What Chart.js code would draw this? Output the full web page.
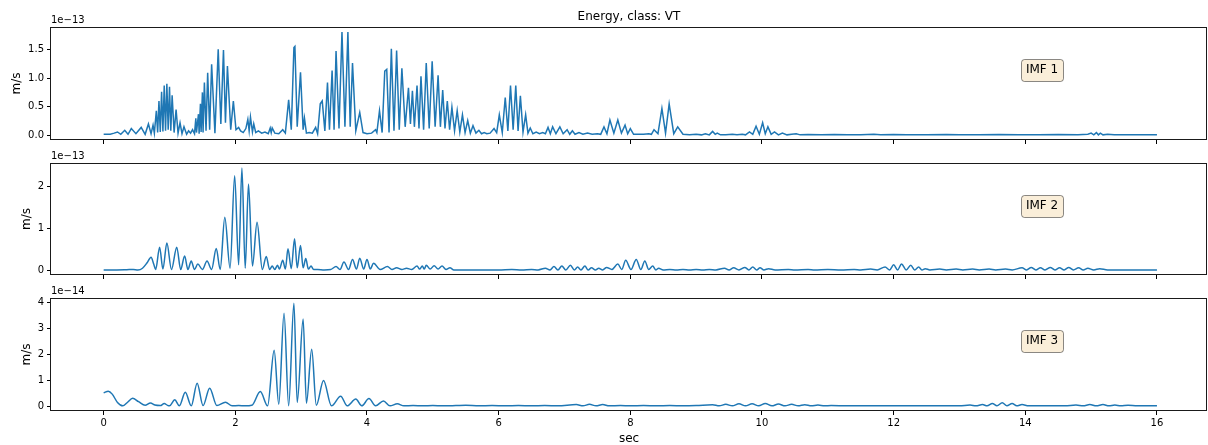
<!DOCTYPE html>
<html><head><meta charset="utf-8">
<script src="https://cdn.jsdelivr.net/npm/chart.js@4/dist/chart.umd.min.js"></script>
<style>
html,body{margin:0;padding:0;background:#fff;}
#wrap{position:relative;width:1208px;height:445px;overflow:hidden;background:#fff;}
canvas{position:absolute;left:0;top:0;}
</style></head><body>
<div id="wrap">
<canvas id="c1" width="1208" height="445"></canvas>
<canvas id="c2" width="1208" height="445"></canvas>
<canvas id="c3" width="1208" height="445"></canvas>
</div>
<script>
// ---------- text ----------
const TITLE = 'Energy, class: VT';
const X_LABEL = 'sec';
const Y_LABEL = 'm/s';
const IMF_LABELS = ['IMF 1', 'IMF 2', 'IMF 3'];
const OFFSET_TEXTS = ['1e\u221213', '1e\u221213', '1e\u221214'];

// ---------- ticks ----------
const X_TICKS = [0, 2, 4, 6, 8, 10, 12, 14, 16];
const X_TICK_LABELS = ['0', '2', '4', '6', '8', '10', '12', '14', '16'];
const Y1_TICKS = [0, 0.5, 1, 1.5];
const Y1_TICK_LABELS = ['0.0', '0.5', '1.0', '1.5'];
const Y2_TICKS = [0, 1, 2];
const Y2_TICK_LABELS = ['0', '1', '2'];
const Y3_TICKS = [0, 1, 2, 3, 4];
const Y3_TICK_LABELS = ['0', '1', '2', '3', '4'];

// ---------- data (time in sec, energy in units of the offset text) ----------
const IMF1_T = [0.00,0.10,0.16,0.21,0.26,0.32,0.37,0.42,0.49,0.57,0.63,0.68,0.72,0.75,0.77,0.80,0.82,0.84,0.86,0.88,0.90,0.92,0.94,0.96,0.98,1.00,1.02,1.04,1.07,1.10,1.13,1.16,1.19,1.22,1.26,1.29,1.32,1.35,1.38,
1.40,1.41,1.44,1.45,1.47,1.48,1.50,1.51,1.53,1.555,1.58,1.61,1.64,1.69,1.74,1.78,1.82,1.85,1.88,1.93,1.97,2.01,2.05,2.08,2.12,2.16,2.19,2.21,2.23,2.26,2.28,2.31,2.35,2.40,2.45,2.50,2.53,2.545,2.56,2.60,2.66,2.72,2.76,
2.81,2.85,2.89,2.905,2.94,2.99,3.03,3.05,3.08,3.12,3.17,3.22,3.25,3.29,3.32,3.36,3.40,3.43,3.47,3.50,3.53,3.575,3.62,3.665,3.71,3.745,3.78,3.83,3.89,3.94,4.00,4.07,4.13,4.15,4.19,4.23,4.27,4.30,4.335,4.37,4.41,4.45,4.49,
4.53,4.58,4.63,4.66,4.69,4.72,4.76,4.79,4.82,4.86,4.90,4.945,4.99,5.035,5.08,5.115,5.15,5.185,5.22,5.255,5.29,5.33,5.37,5.41,5.45,5.49,5.53,5.57,5.61,5.655,5.70,5.74,5.78,5.82,5.87,5.93,5.97,6.01,6.055,6.10,6.14,6.18,6.22,
6.26,6.295,6.33,6.37,6.41,6.445,6.48,6.52,6.57,6.62,6.67,6.71,6.75,6.785,6.82,6.87,6.93,6.98,7.04,7.08,7.12,7.16,7.22,7.28,7.35,7.42,7.50,7.55,7.60,7.645,7.69,7.75,7.81,7.865,7.92,7.96,8.00,8.05,8.12,8.20,8.28,8.32,8.36,
8.42,8.48,8.535,8.59,8.66,8.72,8.80,8.90,9.00,9.08,9.14,9.20,9.25,9.29,9.32,9.37,9.45,9.55,9.62,9.70,9.75,9.81,9.86,9.91,9.96,10.01,10.05,10.09,10.14,10.19,10.25,10.31,10.38,10.45,10.52,10.58,10.7,10.9,11.1,11.3,11.5,11.7,
11.8,12.0,12.2,12.5,12.8,13.0,13.3,13.6,13.9,14.2,14.5,14.8,14.95,15.0,15.04,15.08,15.11,15.14,15.18,15.25,15.35,15.6,16.0];
const IMF1_E = [0.02,0.02,0.04,0.06,0.02,0.09,0.02,0.12,0.03,0.14,0.02,0.20,0.03,0.18,0.04,0.43,0.05,0.60,0.06,0.76,0.07,0.87,0.08,0.90,0.10,0.85,0.08,0.70,0.05,0.45,0.04,0.22,0.03,0.15,0.02,0.08,0.04,0.10,0.03,
0.30,0.05,0.37,0.03,0.55,0.06,0.75,0.05,0.92,0.08,1.09,0.10,1.24,0.04,1.50,0.20,1.49,0.22,1.21,0.10,0.60,0.10,0.14,0.08,0.05,0.12,0.28,0.08,0.32,0.06,0.20,0.05,0.08,0.04,0.06,0.03,0.13,0.05,0.13,0.04,0.03,0.10,0.04,
0.62,0.10,1.53,1.55,0.15,1.10,0.10,0.30,0.04,0.05,0.04,0.14,0.03,0.55,0.60,0.08,0.92,0.10,1.13,0.10,1.47,0.12,1.80,0.15,1.80,0.15,1.26,0.08,0.40,0.05,0.03,0.04,0.10,0.05,0.43,0.05,1.12,1.15,0.05,1.51,0.08,1.48,0.10,
1.17,0.15,0.83,0.20,0.78,0.15,0.87,0.12,1.03,0.10,1.26,0.12,1.29,0.15,1.05,0.15,0.79,0.12,0.60,0.10,0.49,0.08,0.43,0.06,0.36,0.05,0.26,0.04,0.17,0.04,0.09,0.03,0.05,0.03,0.04,0.12,0.05,0.36,0.05,0.66,0.08,0.87,0.10,
0.87,0.08,0.69,0.06,0.36,0.04,0.13,0.03,0.06,0.03,0.05,0.03,0.14,0.03,0.15,0.03,0.15,0.03,0.10,0.02,0.08,0.02,0.05,0.02,0.04,0.02,0.03,0.02,0.15,0.03,0.27,0.04,0.27,0.04,0.18,0.03,0.12,0.02,0.02,0.02,0.03,0.02,0.10,
0.03,0.47,0.04,0.55,0.03,0.15,0.02,0.01,0.02,0.01,0.03,0.01,0.07,0.02,0.04,0.01,0.01,0.02,0.01,0.02,0.01,0.06,0.02,0.16,0.02,0.22,0.03,0.15,0.02,0.06,0.01,0.04,0.01,0.02,0.03,0.01,0.015,0.01,0.015,0.01,0.01,0.02,
0.01,0.015,0.01,0.01,0.015,0.01,0.01,0.015,0.01,0.01,0.015,0.01,0.02,0.04,0.01,0.05,0.01,0.04,0.01,0.02,0.01,0.01,0.01];

const IMF2_T = [0.00,0.20,0.35,0.45,0.52,0.59,0.66,0.72,0.76,0.79,0.85,0.90,0.96,1.03,1.11,1.17,1.23,1.28,1.33,1.38,1.43,1.50,1.57,1.64,1.71,1.77,1.84,1.92,1.99,2.05,2.10,2.15,2.20,2.26,2.33,2.41,2.47,2.52,2.56,2.60,2.64,2.67,
2.72,2.76,2.80,2.85,2.90,2.94,2.99,3.03,3.07,3.11,3.15,3.19,3.25,3.35,3.45,3.53,3.59,3.65,3.72,3.78,3.84,3.89,3.95,4.00,4.05,4.10,4.20,4.31,4.38,4.45,4.53,4.60,4.68,4.76,4.80,4.84,4.87,4.90,4.96,5.02,5.08,5.14,5.20,
5.26,5.32,5.45,5.7,6.0,6.2,6.35,6.5,6.6,6.71,6.78,6.84,6.90,6.96,7.02,7.09,7.15,7.20,7.25,7.31,7.36,7.41,7.47,7.52,7.58,7.64,7.72,7.81,7.87,7.93,8.01,8.09,8.16,8.22,8.28,8.34,8.39,8.43,8.50,8.6,8.7,8.8,8.9,9.0,9.1,
9.2,9.3,9.43,9.50,9.57,9.65,9.74,9.80,9.86,9.92,9.97,10.03,10.10,10.2,10.4,10.5,10.7,10.8,11.0,11.2,11.4,11.5,11.65,11.75,11.87,11.94,12.00,12.06,12.12,12.19,12.26,12.32,12.38,12.43,12.48,12.55,12.7,12.8,12.95,13.05,
13.2,13.3,13.45,13.55,13.7,13.8,13.95,14.02,14.09,14.16,14.23,14.30,14.38,14.45,14.52,14.59,14.66,14.73,14.81,14.88,14.95,15.04,15.13,15.25,15.5,16.0];
const IMF2_E = [0.01,0.01,0.015,0.02,0.01,0.05,0.18,0.31,0.15,0.02,0.55,0.03,0.65,0.02,0.55,0.02,0.34,0.02,0.22,0.02,0.15,0.02,0.22,0.02,0.52,0.02,1.26,0.05,2.25,0.13,2.43,0.05,2.05,0.10,1.14,0.02,0.33,0.02,0.10,0.02,0.12,0.03,
0.24,0.03,0.51,0.04,0.75,0.06,0.59,0.06,0.28,0.03,0.10,0.02,0.02,0.01,0.02,0.09,0.02,0.20,0.02,0.26,0.03,0.29,0.03,0.26,0.03,0.17,0.02,0.09,0.02,0.06,0.02,0.05,0.02,0.10,0.03,0.10,0.03,0.12,0.03,0.11,0.03,0.10,0.02,
0.06,0.01,0.01,0.01,0.01,0.02,0.01,0.02,0.01,0.05,0.01,0.09,0.01,0.10,0.01,0.12,0.01,0.08,0.01,0.10,0.01,0.06,0.01,0.05,0.01,0.07,0.02,0.15,0.02,0.24,0.02,0.26,0.02,0.22,0.02,0.10,0.01,0.05,0.01,0.02,0.01,0.02,0.01,0.02,0.01,
0.02,0.01,0.05,0.01,0.06,0.01,0.07,0.01,0.08,0.01,0.06,0.01,0.04,0.01,0.02,0.01,0.02,0.01,0.02,0.01,0.02,0.01,0.03,0.01,0.08,0.01,0.13,0.01,0.15,0.01,0.12,0.01,0.08,0.01,0.04,0.01,0.03,0.01,0.03,0.01,
0.03,0.01,0.03,0.01,0.03,0.01,0.06,0.01,0.07,0.01,0.06,0.01,0.07,0.01,0.06,0.01,0.07,0.01,0.06,0.01,0.05,0.01,0.04,0.01,0.01,0.01];

const IMF3_T = [0.00,0.07,0.13,0.21,0.29,0.36,0.44,0.53,0.63,0.71,0.78,0.86,0.92,0.97,1.00,1.08,1.15,1.24,1.33,1.42,1.51,1.61,1.72,1.85,1.95,2.05,2.15,2.25,2.38,2.49,2.59,2.66,2.74,2.81,2.89,2.94,3.03,3.08,3.16,3.23,3.34,3.46,
3.60,3.70,3.83,3.92,4.03,4.13,4.25,4.35,4.46,4.56,4.7,4.85,5.0,5.15,5.35,5.5,5.7,5.9,6.1,6.3,6.5,6.7,6.9,7.18,7.28,7.38,7.48,7.58,7.68,7.85,8.0,8.2,8.4,8.6,8.8,9.0,9.25,9.35,9.45,9.55,9.65,9.75,9.85,9.95,10.05,10.15,
10.25,10.35,10.45,10.55,10.65,10.75,10.85,10.95,11.05,11.3,11.6,11.9,12.2,12.5,12.8,13.0,13.16,13.25,13.35,13.42,13.50,13.57,13.65,13.72,13.80,13.87,13.95,14.05,14.2,14.4,14.6,14.77,14.88,14.98,15.08,15.18,15.27,15.36,15.45,15.56,15.7,16.0];
const IMF3_E = [0.52,0.58,0.47,0.15,0.02,0.15,0.31,0.18,0.04,0.13,0.05,0.03,0.11,0.04,0.02,0.25,0.02,0.54,0.02,0.89,0.03,0.70,0.03,0.16,0.02,0.03,0.02,0.04,0.57,0.02,2.15,0.08,3.57,0.02,3.96,0.15,3.35,0.12,2.19,0.04,0.99,0.02,
0.39,0.02,0.28,0.02,0.30,0.02,0.21,0.02,0.10,0.02,0.03,0.02,0.03,0.02,0.03,0.04,0.02,0.03,0.02,0.03,0.02,0.03,0.02,0.07,0.02,0.08,0.02,0.07,0.02,0.03,0.02,0.03,0.02,0.03,0.02,0.03,0.06,0.02,0.08,0.02,0.10,0.02,0.10,0.02,0.11,0.02,
0.09,0.02,0.08,0.02,0.06,0.02,0.05,0.02,0.03,0.02,0.02,0.02,0.02,0.02,0.02,0.02,0.05,0.02,0.07,0.02,0.11,0.02,0.14,0.02,0.11,0.02,0.07,0.02,0.02,0.02,0.02,0.05,0.02,0.07,0.02,0.07,0.02,0.05,0.02,0.04,0.02,0.02];

// ---------- layout / style ----------
const FONT = '"DejaVu Sans", "Liberation Sans", sans-serif';
const LINE_COLOR = '#1f77b4';
const AX_LEFT = 51, AX_RIGHT = 1207, Y_AXIS_W = 40, X_AXIS_H = 30;
const X_MIN = -0.8, X_MAX = 16.76;
const PANELS = [
  {id:'c1', t:IMF1_T, e:IMF1_E, yt:Y1_TICKS, ytl:Y1_TICK_LABELS, top:27, bottom:140, ylabX:16.5, smooth:false, showX:false, title:true,  xlabel:false, imf:IMF_LABELS[0], off:OFFSET_TEXTS[0]},
  {id:'c2', t:IMF2_T, e:IMF2_E, yt:Y2_TICKS, ytl:Y2_TICK_LABELS, top:163, bottom:275, ylabX:26.5, smooth:true, showX:false, title:false, xlabel:false, imf:IMF_LABELS[1], off:OFFSET_TEXTS[1]},
  {id:'c3', t:IMF3_T, e:IMF3_E, yt:Y3_TICKS, ytl:Y3_TICK_LABELS, top:298, bottom:411, ylabX:27, smooth:true, showX:true, title:false, xlabel:true, imf:IMF_LABELS[2], off:OFFSET_TEXTS[2]}
];

const deco = {
  id: 'deco',
  afterDraw(chart, args, o) {
    const ctx = chart.ctx, a = chart.chartArea;
    ctx.save();
    // frame (all four spines)
    ctx.strokeStyle = '#1a1a1a';
    ctx.lineWidth = 1;
    ctx.strokeRect(Math.round(a.left) - 0.5, Math.round(a.top) + 0.5, Math.round(a.right - a.left), Math.round(a.bottom - a.top) - 1);
    ctx.fillStyle = '#000';
    // offset text
    ctx.font = '10px ' + FONT;
    ctx.textAlign = 'left'; ctx.textBaseline = 'alphabetic';
    ctx.fillText(o.off, a.left, a.top - 4);
    // y label
    ctx.save();
    ctx.translate(o.ylabX, (a.top + a.bottom) / 2);
    ctx.rotate(-Math.PI / 2);
    ctx.font = '12px ' + FONT;
    ctx.textAlign = 'center'; ctx.textBaseline = 'middle';
    ctx.fillText(Y_LABEL, 0, 0);
    ctx.restore();
    // title / x label
    ctx.font = '12px ' + FONT;
    ctx.textAlign = 'center'; ctx.textBaseline = 'alphabetic';
    if (o.title) ctx.fillText(TITLE, (a.left + a.right) / 2, a.top - 7);
    if (o.xlabel) ctx.fillText(X_LABEL, (a.left + a.right) / 2, 442);
    // IMF box
    const cx = 1042, cy = a.top + 42.5;
    const tw = ctx.measureText(o.imf).width;
    const w = tw + 10, h = 22;
    ctx.beginPath();
    ctx.roundRect(Math.round(cx - w / 2) + 0.5, Math.round(cy - h / 2) + 0.5, Math.round(w), h, 3);
    ctx.fillStyle = 'rgb(250,238,217)';
    ctx.fill();
    ctx.strokeStyle = 'rgba(0,0,0,0.45)';
    ctx.stroke();
    ctx.fillStyle = '#000';
    ctx.textBaseline = 'middle';
    ctx.fillText(o.imf, cx, cy + 0.5);
    ctx.restore();
  }
};

function makeChart(p) {
  const pts = p.t.map((t, i) => ({x: t, y: p.e[i]}));
  const lo = Math.min(...p.e), hi = Math.max(...p.e), m = 0.05 * (hi - lo);
  const tickFont = {family: FONT, size: 10};
  return new Chart(document.getElementById(p.id), {
    type: 'line',
    data: {datasets: [{
      data: pts, borderColor: LINE_COLOR, borderWidth: 1.5, pointRadius: 0, fill: false,
      tension: p.smooth ? 0.4 : 0, cubicInterpolationMode: p.smooth ? 'monotone' : 'default'
    }]},
    options: {
      responsive: false, animation: false, events: [],
      layout: {padding: {left: AX_LEFT - Y_AXIS_W, right: 1208 - AX_RIGHT, top: p.top, bottom: 445 - p.bottom - X_AXIS_H}},
      plugins: {legend: {display: false}, tooltip: {enabled: false},
        deco: {off: p.off, ylabX: p.ylabX, title: p.title, xlabel: p.xlabel, imf: p.imf}},
      scales: {
        x: {type: 'linear', min: X_MIN, max: X_MAX,
          afterBuildTicks: s => { s.ticks = X_TICKS.map(v => ({value: v})); },
          afterFit: s => { s.height = X_AXIS_H; },
          ticks: {callback: (v, i) => p.showX ? X_TICK_LABELS[i] : '', color: '#000', font: tickFont, padding: 2, maxRotation: 0, autoSkip: false},
          grid: {display: true, drawOnChartArea: false, drawTicks: true, tickLength: 4, color: '#000', lineWidth: 1},
          border: {display: false}},
        y: {type: 'linear', min: lo - m, max: hi + m,
          afterBuildTicks: s => { s.ticks = p.yt.map(v => ({value: v})); },
          afterFit: s => { s.width = Y_AXIS_W; },
          ticks: {callback: (v, i) => p.ytl[i], color: '#000', font: tickFont, padding: 3, autoSkip: false},
          grid: {display: true, drawOnChartArea: false, drawTicks: true, tickLength: 4, color: '#000', lineWidth: 1},
          border: {display: false}}
      }
    },
    plugins: [deco]
  });
}
PANELS.forEach(makeChart);
</script>
</body></html>
